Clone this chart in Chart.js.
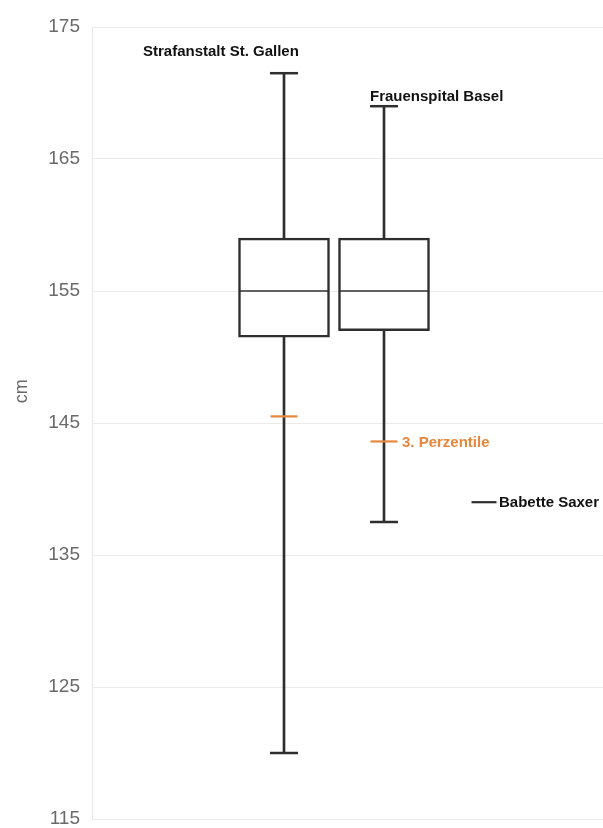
<!DOCTYPE html>
<html>
<head>
<meta charset="utf-8">
<script src="https://cdn.jsdelivr.net/npm/chart.js@4/dist/chart.umd.min.js"></script>
<style>
  html, body { margin: 0; padding: 0; background: #fff; }
  #wrap { width: 603px; height: 828px; position: relative; }
</style>
</head>
<body>
<div id="wrap"><canvas id="chart" width="603" height="828"></canvas></div>
<script>
// Body height distributions (cm)
const groups = ['Strafanstalt St. Gallen', 'Frauenspital Basel'];
const groupX = [1, 2];
const minVals = [120, 137.5];
const q1Vals = [151.5, 152];
const medianVals = [155, 155];
const q3Vals = [159, 159];
const maxVals = [171.5, 169];
const p3Vals = [145.5, 143.6];   // 3rd percentile
const personName = 'Babette Saxer';
const personX = 3;
const personHeight = 139;
const yTicks = [115, 125, 135, 145, 155, 165, 175];
const yUnit = 'cm';

const DARK = '#2e2e2e';
const ORANGE = '#e5873d';
const AXIS_GREY = '#6a6a6a';

const rows = groups.map((g, i) => ({ x: groupX[i] }));

// Text labels anchored to data points (pixel offsets), plus the rotated unit title
const textLabels = {
  id: 'textLabels',
  afterDatasetsDraw(chart, args, opts) {
    const { ctx, scales: { x, y } } = chart;
    ctx.save();
    ctx.textBaseline = 'middle';
    ctx.textAlign = 'left';
    opts.items.forEach(it => {
      ctx.font = it.font;
      ctx.fillStyle = it.color;
      ctx.fillText(it.text, x.getPixelForValue(it.x) + it.dx, y.getPixelForValue(it.y) + it.dy);
    });
    const t = opts.unitTitle;
    ctx.translate(t.left, y.getPixelForValue(t.y));
    ctx.rotate(-Math.PI / 2);
    ctx.textAlign = 'center';
    ctx.font = t.font;
    ctx.fillStyle = t.color;
    ctx.fillText(t.text, 0, 0);
    ctx.restore();
  }
};

const labelFont = 'bold 15px "Liberation Sans", Arial, sans-serif';

new Chart(document.getElementById('chart'), {
  data: {
    datasets: [
      {
        type: 'bar',
        label: 'whisker',
        data: rows.map((r, i) => ({ x: r.x, y: [minVals[i], maxVals[i]] })),
        backgroundColor: DARK,
        borderWidth: 0,
        barThickness: 2,
        grouped: false,
        order: 5
      },
      {
        type: 'bar',
        label: 'box',
        data: rows.map((r, i) => ({ x: r.x, y: [q1Vals[i], q3Vals[i]] })),
        backgroundColor: '#ffffff',
        borderColor: DARK,
        borderWidth: 2.5,
        borderSkipped: false,
        barThickness: 91,
        grouped: false,
        order: 4
      },
      {
        type: 'scatter',
        label: 'median',
        data: rows.map((r, i) => ({ x: r.x, y: medianVals[i] })),
        pointStyle: 'line',
        radius: 45,
        borderColor: DARK,
        borderWidth: 1.6,
        order: 3
      },
      {
        type: 'scatter',
        label: 'caps',
        data: rows.flatMap((r, i) => [{ x: r.x, y: minVals[i] }, { x: r.x, y: maxVals[i] }]),
        pointStyle: 'line',
        radius: 14,
        borderColor: DARK,
        borderWidth: 2.5,
        order: 2
      },
      {
        type: 'scatter',
        label: '3. Perzentile',
        data: rows.map((r, i) => ({ x: r.x, y: p3Vals[i] })),
        pointStyle: 'line',
        radius: 13.5,
        borderColor: ORANGE,
        borderWidth: 2.2,
        order: 1
      },
      {
        type: 'scatter',
        label: personName,
        data: [{ x: personX, y: personHeight }],
        pointStyle: 'line',
        radius: 12.5,
        borderColor: DARK,
        borderWidth: 2.2,
        order: 0
      }
    ]
  },
  options: {
    responsive: false,
    animation: false,
    events: [],
    layout: { autoPadding: false, padding: { top: 27, left: 0, right: 0, bottom: 9 } },
    plugins: {
      legend: { display: false },
      tooltip: { enabled: false },
      textLabels: {
        items: [
          { text: groups[0], x: groupX[0], y: maxVals[0], dx: -141, dy: -21, font: labelFont, color: '#111' },
          { text: groups[1], x: groupX[1], y: maxVals[1], dx: -14, dy: -9, font: labelFont, color: '#111' },
          { text: '3. Perzentile', x: groupX[1], y: p3Vals[1], dx: 18, dy: 1, font: labelFont, color: ORANGE },
          { text: personName, x: personX, y: personHeight, dx: 15, dy: 1, font: labelFont, color: '#111' }
        ],
        unitTitle: {
          text: yUnit, left: 22, y: 147.4, color: AXIS_GREY,
          font: '18px "Liberation Sans", Arial, sans-serif'
        }
      }
    },
    scales: {
      x: {
        type: 'linear',
        display: false,
        offset: false,
        min: -0.92,
        max: 4.19
      },
      y: {
        type: 'linear',
        min: 115,
        max: 175,
        afterBuildTicks(scale) { scale.ticks = yTicks.map(v => ({ value: v })); },
        afterFit(scale) {
          scale.width = 92;
          scale.paddingTop = 0;
          scale.paddingBottom = 0;
        },
        grid: { color: '#ebebeb', lineWidth: 1, drawTicks: false },
        border: { display: true, color: '#e6e6e6' },
        ticks: {
          padding: 12,
          color: AXIS_GREY,
          font: { family: '"Liberation Sans", Arial, sans-serif', size: 19 }
        }
      }
    }
  },
  plugins: [textLabels]
});
</script>
</body>
</html>
